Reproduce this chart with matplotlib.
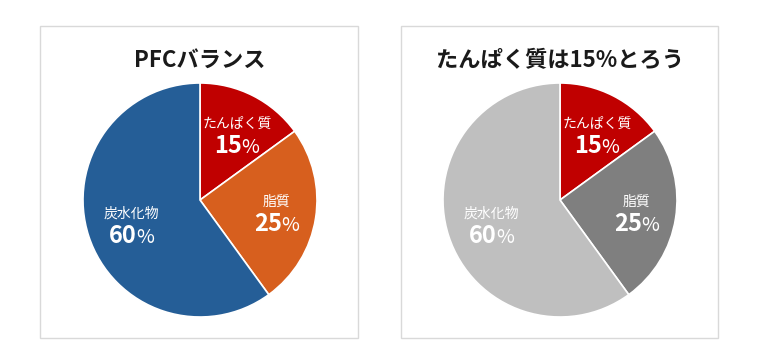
import matplotlib
matplotlib.use('Agg')
import matplotlib.pyplot as plt
import numpy as np
from matplotlib.patches import Rectangle

plt.rcParams['font.family'] = ['Noto Sans CJK JP', 'DejaVu Sans']

# PFC balance data
labels = ['たんぱく質', '脂質', '炭水化物']
values = [15, 25, 60]
titles = ['PFCバランス', 'たんぱく質は15%とろう']
colors_left = ['#C00000', '#D75F1E', '#255E97']
colors_right = ['#C00000', '#7F7F7F', '#BFBFBF']

W, H = 760, 361
fig = plt.figure(figsize=(W / 100, H / 100), dpi=100)
renderer = fig.canvas.get_renderer()


def px_box(x0, y0, x1, y1):
    # pixel box (top-left origin) -> figure fraction rect
    return [x0 / W, 1 - y1 / H, (x1 - x0) / W, (y1 - y0) / H]


panels = [(40, 26, 358, 338, 200), (401, 26, 718, 338, 560)]
for (x0, y0, x1, y1, cx), title, cols in zip(panels, titles, [colors_left, colors_right]):
    # panel frame
    fig.patches.append(Rectangle((x0 / W, 1 - y1 / H), (x1 - x0) / W, (y1 - y0) / H,
                                 transform=fig.transFigure, facecolor='white',
                                 edgecolor='#D9D9D9', linewidth=1, zorder=-5))
    fig.text(cx / W, 1 - 60 / H, title, ha='center', va='center',
             fontsize=16, fontweight='bold', color='#1a1a1a')

    r = 117
    ax = fig.add_axes(px_box(cx - r, 200 - r, cx + r, 200 + r))
    ax.patch.set_visible(False)
    wedges, _ = ax.pie(values, colors=cols, startangle=90, counterclock=False,
                       wedgeprops=dict(edgecolor='white', linewidth=1.2))
    ax.set_xlim(-1, 1)
    ax.set_ylim(-1, 1)
    ax.set_aspect('equal')

    for w, name, v in zip(wedges, labels, values):
        ang = np.deg2rad((w.theta1 + w.theta2) / 2)
        lx, ly = 0.64 * np.cos(ang), 0.64 * np.sin(ang)
        ax.annotate(name, (lx, ly), xytext=(2, 7), textcoords='offset points',
                    ha='center', va='center', fontsize=10, color='white')
        # number large, percent sign smaller (Excel style)
        num = ax.annotate(str(v), (lx, ly), xytext=(0, 0), textcoords='offset points',
                          ha='left', va='baseline', fontsize=17, fontweight='bold',
                          color='white')
        pct = ax.annotate('%', (lx, ly), xytext=(0, 0), textcoords='offset points',
                          ha='left', va='baseline', fontsize=14, color='white')
        wn = num.get_window_extent(renderer).width * 72 / 100 - 0.5
        wp = pct.get_window_extent(renderer).width * 72 / 100
        left = 2 - (wn + wp) / 2
        num.set_position((left, -14))
        pct.set_position((left + wn, -14))

fig.savefig('out.png', dpi=100, facecolor='white')
